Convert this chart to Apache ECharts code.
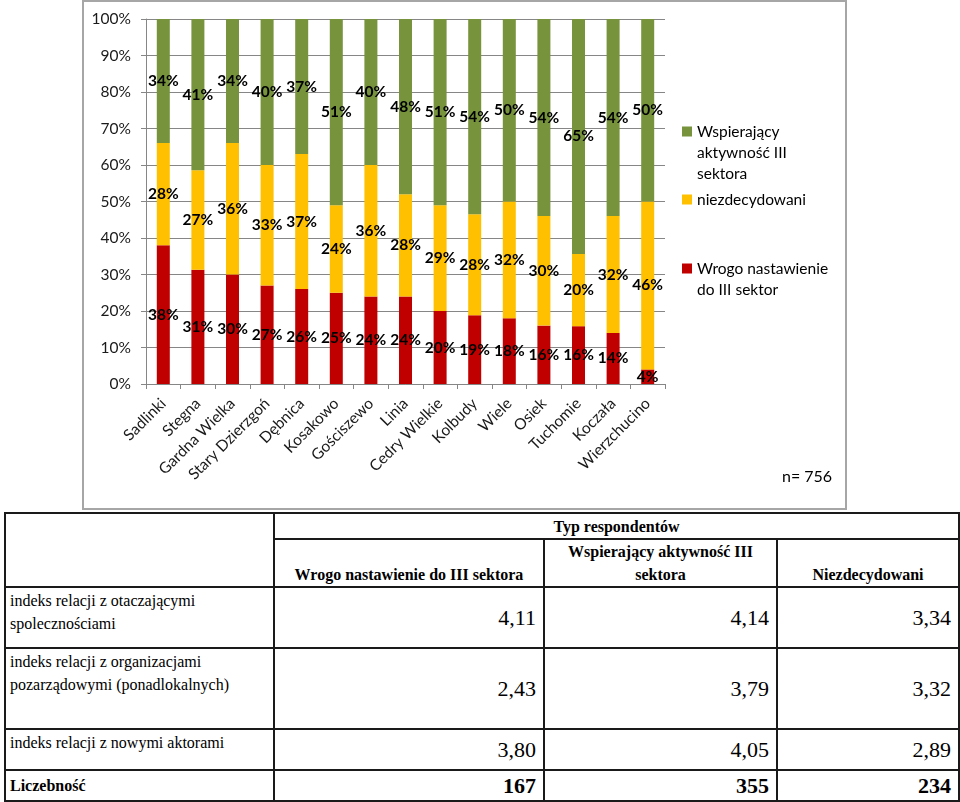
<!DOCTYPE html>
<html>
<head>
<meta charset="utf-8">
<script src="https://cdn.jsdelivr.net/npm/echarts@6/dist/echarts.min.js"></script>
<style>
  html, body { margin: 0; padding: 0; background: #fff; }
  #frame { position: absolute; left: 82px; top: 0px; width: 761px; height: 506px; border: 2px solid #a6a6a6; }
  #chart { width: 761px; height: 506px; }
  #tbl { position: absolute; left: 4px; top: 512px; border-collapse: collapse; table-layout: fixed; color: #000; }
  #tbl td { border: 2px solid #1a1a1a; padding: 0 8px; font-family: "Liberation Serif", "Times New Roman", "DejaVu Serif", serif; }
  #tbl td.hd { font-weight: bold; font-size: 16px; text-align: center; line-height: 23px; }
  #tbl td.lab { font-size: 16px; line-height: 23px; vertical-align: top; padding: 1px 4px 0 4px; }
  #tbl td.num { font-size: 22px; text-align: right; vertical-align: middle; padding-right: 7px; }
  #tbl td.bold { font-weight: bold; }
</style>
</head>
<body>
<div id="frame"><div id="chart"></div></div>
<table id="tbl">
  <colgroup><col style="width:269px"><col style="width:270px"><col style="width:233px"><col style="width:182px"></colgroup>
  <tr style="height:26px"><td rowspan="2"></td><td colspan="3" class="hd" style="vertical-align:middle">Typ respondentów</td></tr>
  <tr style="height:46px">
    <td class="hd" style="vertical-align:bottom">Wrogo nastawienie do III sektora</td>
    <td class="hd" style="vertical-align:bottom">Wspierający aktywność III<br>sektora</td>
    <td class="hd" style="vertical-align:bottom">Niezdecydowani</td>
  </tr>
  <tr style="height:61px"><td class="lab">indeks relacji z otaczającymi spolecznościami</td><td class="num" id="r0c0"></td><td class="num" id="r0c1"></td><td class="num" id="r0c2"></td></tr>
  <tr style="height:81px"><td class="lab">indeks relacji z organizacjami pozarządowymi (ponadlokalnych)</td><td class="num" id="r1c0"></td><td class="num" id="r1c1"></td><td class="num" id="r1c2"></td></tr>
  <tr style="height:41px"><td class="lab">indeks relacji z nowymi aktorami</td><td class="num" id="r2c0"></td><td class="num" id="r2c1"></td><td class="num" id="r2c2"></td></tr>
  <tr style="height:31px"><td class="lab bold" style="vertical-align:middle;padding-top:0">Liczebność</td><td class="num bold" id="r3c0"></td><td class="num bold" id="r3c1"></td><td class="num bold" id="r3c2"></td></tr>
</table>
<script>
const categories = ['Sadlinki','Stegna','Gardna Wielka','Stary Dzierzgoń','Dębnica','Kosakowo','Gościszewo','Linia','Cedry Wielkie','Kolbudy','Wiele','Osiek','Tuchomie','Koczała','Wierzchucino'];
const wrogo = [38,31,30,27,26,25,24,24,20,19,18,16,16,14,4];
const niezdecydowani = [28,27,36,33,37,24,36,28,29,28,32,30,20,32,46];
const wspierajacy = [34,41,34,40,37,51,40,48,51,54,50,54,65,54,50];
const yTicks = [0,10,20,30,40,50,60,70,80,90,100];
const sampleText = 'n= 756';

// table values
const tableRows = [
  ['4,11','4,14','3,34'],
  ['2,43','3,79','3,32'],
  ['3,80','4,05','2,89'],
  ['167','355','234']
];
tableRows.forEach((r,i)=>r.forEach((v,j)=>{document.getElementById('r'+i+'c'+j).textContent=v;}));

const totals = categories.map((c,i)=>wrogo[i]+niezdecydowani[i]+wspierajacy[i]);
const pct = arr => arr.map((v,i)=>v*100/totals[i]);

const chart = echarts.init(document.getElementById('chart'), null, {renderer:'canvas'});
const labelCfg = raw => ({
  show: true, position: 'inside', color: '#000', fontWeight: 'bold', fontSize: 15.5,
  fontFamily: 'Lato', formatter: p => raw[p.dataIndex] + '%'
});
const legendBase = {
  orient: 'vertical', padding: 0, itemWidth: 10, itemHeight: 10, itemGap: 0,
  icon: 'rect', left: 598, selectedMode: false
};
chart.setOption({
  animation: false,
  color: ['#c00000','#ffc000','#77933c'],
  grid: { left: 62, top: 17, right: 180, bottom: 124 },
  title: { text: sampleText, left: 698, top: 467, padding: 0,
           textStyle: { fontFamily: 'Lato', fontSize: 16, fontWeight: 'normal', color: '#000' } },
  legend: [
    Object.assign({}, legendBase, { top: 77, data: ['Wspierający aktywność III sektora'],
      formatter: () => '\n\nWspierający\naktywność III\nsektora',
      textStyle: { fontFamily: 'Lato', fontSize: 15.5, color: '#000', lineHeight: 21 } }),
    Object.assign({}, legendBase, { top: 187, data: ['niezdecydowani'],
      textStyle: { fontFamily: 'Lato', fontSize: 15.5, color: '#000', lineHeight: 21 } }),
    Object.assign({}, legendBase, { top: 235, data: ['Wrogo nastawienie do III sektor'],
      formatter: () => '\nWrogo nastawienie\ndo III sektor',
      textStyle: { fontFamily: 'Lato', fontSize: 15.5, color: '#000', lineHeight: 21 } })
  ],
  xAxis: {
    type: 'category', data: categories,
    axisLine: { lineStyle: { color: '#868686', width: 1 } },
    axisTick: { show: true, length: 5, lineStyle: { color: '#868686' } },
    axisLabel: { rotate: 45, fontFamily: 'Lato', fontSize: 15.5, color: '#1a1a1a', margin: 17, interval: 0 }
  },
  yAxis: {
    type: 'value', min: yTicks[0], max: yTicks[yTicks.length-1], interval: yTicks[1]-yTicks[0],
    axisLine: { show: true, lineStyle: { color: '#868686', width: 1 } },
    axisTick: { show: true, length: 5, lineStyle: { color: '#868686' } },
    splitLine: { lineStyle: { color: '#868686', width: 1 } },
    axisLabel: { formatter: '{value}%', fontFamily: 'Lato', fontSize: 15.5, color: '#1a1a1a', margin: 15 }
  },
  series: [
    { name: 'Wrogo nastawienie do III sektor', type: 'bar', stack: 'a', barWidth: 13,
      data: pct(wrogo), label: labelCfg(wrogo) },
    { name: 'niezdecydowani', type: 'bar', stack: 'a', barWidth: 13,
      data: pct(niezdecydowani), label: labelCfg(niezdecydowani) },
    { name: 'Wspierający aktywność III sektora', type: 'bar', stack: 'a', barWidth: 13,
      data: pct(wspierajacy), label: labelCfg(wspierajacy) }
  ]
});
</script>
</body>
</html>
